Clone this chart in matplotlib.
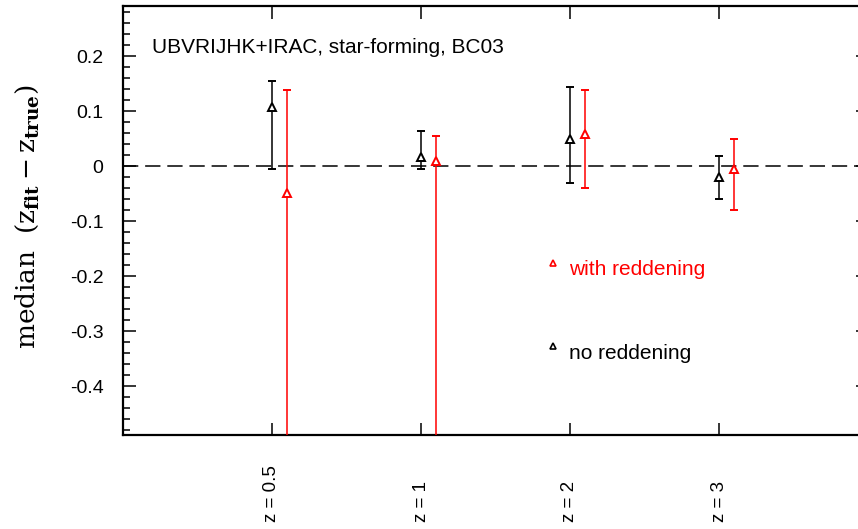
import matplotlib
matplotlib.use("Agg")
import matplotlib.pyplot as plt
import matplotlib.transforms as mtransforms
from matplotlib.ticker import MultipleLocator

plt.rcParams['font.family'] = ['Liberation Sans', 'DejaVu Sans']
plt.rcParams['mathtext.fontset'] = 'dejavuserif'

# redshift bins
bins = ['z = 0.5', 'z = 1', 'z = 2', 'z = 3']
xpos = [1, 2, 3, 4]

# median (z_fit - z_true) and the spread around it
no_red_med = [0.108, 0.016, 0.050, -0.019]
no_red_lo = [-0.005, -0.005, -0.030, -0.059]
no_red_hi = [0.155, 0.064, 0.144, 0.019]

red_med = [-0.049, 0.009, 0.058, -0.006]
red_lo = [-0.60, -0.60, -0.040, -0.080]
red_hi = [0.139, 0.055, 0.139, 0.050]

shift = 0.1

fig = plt.figure(figsize=(8.58, 5.29), dpi=100)
ax = fig.add_axes([123 / 858, 94 / 529, 745 / 858, 429 / 529])

ax.axhline(0, color='black', lw=1.1, dashes=(10, 4.5), zorder=1)


def draw_set(x, med, lo, hi, color):
    yerr = [[m - l for m, l in zip(med, lo)], [h - m for m, h in zip(med, hi)]]
    ax.errorbar(x, med, yerr=yerr, fmt='^', color=color, ecolor=color,
                mfc='white', mec=color, mew=1.4, ms=5.5,
                elinewidth=1.1, capsize=3, capthick=1.1, zorder=3)


draw_set(xpos, no_red_med, no_red_lo, no_red_hi, 'black')
draw_set([x + shift for x in xpos], red_med, red_lo, red_hi, 'red')

ax.set_xlim(0, 5)
ax.set_ylim(-0.489, 0.291)

for side in ['left', 'top', 'bottom']:
    ax.spines[side].set_linewidth(1.6)
ax.spines['right'].set_visible(False)

ax.yaxis.set_minor_locator(MultipleLocator(0.02))
ax.set_yticks([0.2, 0.1, 0, -0.1, -0.2, -0.3, -0.4])
ax.set_yticklabels(['0.2', '0.1', '0', '-0.1', '-0.2', '-0.3', '-0.4'])
ax.tick_params(axis='y', which='major', direction='in', length=9, width=1.1,
               right=True, labelsize=14, pad=14)
ax.tick_params(axis='y', which='minor', direction='in', length=5, width=1.1,
               left=True, right=False)

ax.set_xticks(xpos)
ax.set_xticklabels([])
ax.tick_params(axis='x', which='major', direction='in', length=9, width=1.1,
               top=True, bottom=True)
ax.tick_params(axis='x', which='minor', bottom=False, top=False)

# rotated bin labels, aligned at their lower end
trans = mtransforms.blended_transform_factory(ax.transData, fig.transFigure)
for x, lab in zip(xpos, bins):
    ax.text(x, 7 / 529, lab, transform=trans, rotation=90,
            ha='center', va='bottom', fontsize=13.5)

ax.text(-0.129, 0.508,
        r'median  $\left(\mathrm{z}_{\mathbf{fit}} - \mathrm{z}_{\mathbf{true}}\right)$',
        transform=ax.transAxes, rotation=90, ha='center', va='center',
        family='DejaVu Serif', fontsize=19)

ax.text(0.039, 0.904, 'UBVRIJHK+IRAC, star-forming, BC03',
        transform=ax.transAxes, fontsize=15, va='center', ha='left')

ax.plot([0.577], [0.401], '^', transform=ax.transAxes, mfc='white',
        mec='red', mew=1.2, ms=3.8)
ax.text(0.599, 0.385, 'with reddening', transform=ax.transAxes,
        color='red', fontsize=15, va='center', ha='left')
ax.plot([0.577], [0.207], '^', transform=ax.transAxes, mfc='white',
        mec='black', mew=1.2, ms=3.8)
ax.text(0.599, 0.191, 'no reddening', transform=ax.transAxes,
        color='black', fontsize=15, va='center', ha='left')

fig.savefig('out.png', dpi=100)
